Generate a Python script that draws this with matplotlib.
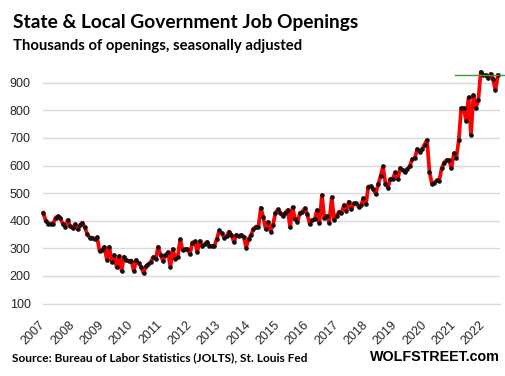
import numpy as np
import matplotlib.pyplot as plt

# State & local government job openings, thousands, monthly from Jan 2007
openings = [
    429, 400, 390, 390, 390, 411, 417, 411, 387, 379, 403, 380,   # 2007
    373, 387, 369, 385, 393, 376, 351, 339, 339, 333, 341, 291,   # 2008
    294, 306, 258, 306, 250, 276, 232, 272, 219, 270, 258, 254,   # 2009
    256, 218, 258, 246, 234, 210, 236, 242, 252, 268, 262, 306,   # 2010
    276, 254, 276, 286, 234, 298, 262, 270, 333, 294, 297, 297,   # 2011
    280, 321, 325, 288, 327, 309, 315, 324, 310, 309, 309, 334,   # 2012
    365, 355, 339, 345, 361, 349, 322, 349, 345, 349, 343, 303,   # 2013
    334, 349, 370, 379, 376, 447, 412, 370, 396, 361, 386, 429,   # 2014
    441, 429, 417, 429, 439, 376, 449, 405, 397, 429, 433, 445,   # 2015
    424, 388, 403, 405, 439, 393, 493, 409, 417, 393, 485, 403,   # 2016
    418, 433, 427, 457, 437, 469, 441, 463, 463, 451, 457, 482,   # 2017
    459, 524, 525, 515, 497, 532, 562, 597, 535, 520, 551, 553,   # 2018
    575, 550, 591, 583, 576, 588, 600, 624, 627, 660, 648, 660,   # 2019
    676, 693, 578, 533, 538, 546, 545, 590, 611, 620, 620, 590,   # 2020
    645, 627, 693, 808, 809, 762, 847, 711, 856, 809, 838, 940,   # 2021
    928, 928, 916, 932, 915, 872, 927,                            # 2022
]
years = list(range(2007, 2023))
yticks = [100, 200, 300, 400, 500, 600, 700, 800, 900]
latest = openings[-1]

W, H = 506, 376
fig = plt.figure(figsize=(W / 100, H / 100), dpi=100)
ax = fig.add_axes([43.3 / W, (H - 303.6) / H, (500 - 43.3) / W, (303.6 - 66.2) / H])

x = np.arange(len(openings))
ax.plot(x, openings, color='#ff0000', lw=2.7, marker='o', ms=2.3,
        mfc='#111111', mec='#111111', zorder=3, clip_on=False)

# horizontal marker at the latest level
ax.plot([168.5, 189.3], [latest, latest], color='#3a9a3a', lw=1.0,
        zorder=4, clip_on=False)

ax.set_xlim(0, (500 - 43.3) / 2.444)
ax.set_ylim(100, 960)
ax.set_yticks(yticks)
ax.set_yticklabels([str(v) for v in yticks], fontsize=9,
                   family='Liberation Sans', color='#262626')
ax.set_xticks(np.arange(0, 12 * len(years), 12))
ax.set_xticklabels([str(y) for y in years], rotation=45, ha='right', va='center',
                   rotation_mode='anchor', fontsize=9, family='Liberation Sans',
                   color='#262626')
ax.tick_params(axis='y', length=0, pad=9)
ax.tick_params(axis='x', length=0, pad=14)
ax.grid(axis='y', color='#d9d9d9', lw=1.0)
ax.set_axisbelow(True)
for s in ['top', 'right', 'left']:
    ax.spines[s].set_visible(False)
ax.spines['bottom'].set_color('#d9d9d9')

fig.text(13 / W, 1 - 28 / H, 'State & Local Government Job Openings',
         fontsize=13.8, fontweight='bold', family='Lato', va='baseline')
fig.text(13 / W, 1 - 50 / H, 'Thousands of openings, seasonally adjusted',
         fontsize=10.7, fontweight='bold', family='Lato', va='baseline')
fig.text(12 / W, 1 - 361 / H, 'Source: Bureau of Labor Statistics (JOLTS), St. Louis Fed',
         fontsize=8.6, fontweight='bold', family='Lato', va='baseline')
fig.text(370 / W, 1 - 361 / H, 'WOLFSTREET.com',
         fontsize=10.3, fontweight='heavy', family='Liberation Sans', va='baseline')

fig.savefig('out.png', dpi=100)
